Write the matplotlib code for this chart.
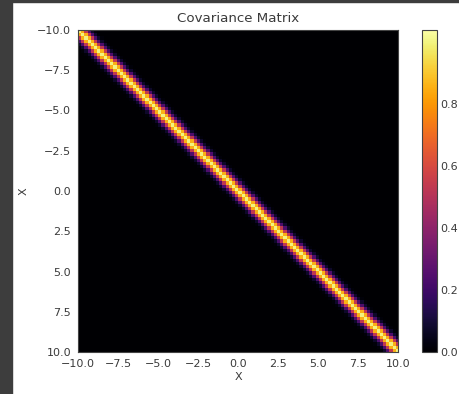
import numpy as np
import matplotlib
matplotlib.use("Agg")
import matplotlib.pyplot as plt
from matplotlib.patches import Rectangle

# grid points and kernel settings
n_points = 100
x_min, x_max = -10.0, 10.0
length_scale = 0.36
tick_values = [-10.0, -7.5, -5.0, -2.5, 0.0, 2.5, 5.0, 7.5, 10.0]
cbar_ticks = [0.0, 0.2, 0.4, 0.6, 0.8]

# covariance matrix of a squared exponential kernel
x = np.linspace(x_min, x_max, n_points)
sqdist = (x[:, None] - x[None, :]) ** 2
cov = np.exp(-0.5 * sqdist / length_scale ** 2)

plt.rcParams["font.family"] = "DejaVu Sans"
plt.rcParams["font.size"] = 8

fig = plt.figure(figsize=(4.59, 3.94), dpi=100)
fig.patch.set_facecolor("white")

# notebook frame around the screenshot
fig.patches.append(Rectangle((0, 0), 12 / 459, 1, transform=fig.transFigure, color="#3d3d3d", zorder=0))
fig.patches.append(Rectangle((0, 1 - 2 / 394), 1, 2 / 394, transform=fig.transFigure, color="#3d3d3d", zorder=0))

ax = fig.add_axes([78 / 459, 42 / 394, 320 / 459, 322 / 394])
cax = fig.add_axes([422 / 459, 42 / 394, 15 / 459, 322 / 394])

im = ax.imshow(cov, cmap="inferno", extent=[x_min, x_max, x_max, x_min],
               vmin=0, vmax=1.04, aspect="auto", interpolation="nearest")
ax.set_xticks(tick_values)
ax.set_yticks(tick_values)
ax.tick_params(length=0, pad=5, colors="#3a3a3a", labelsize=8)
ax.set_xlabel("X", color="#3a3a3a", labelpad=2)
ax.set_ylabel("X", color="#3a3a3a", labelpad=6)
ax.set_title("Covariance Matrix", fontsize=9.6, color="#3a3a3a", pad=6)
for spine in ax.spines.values():
    spine.set_color("#444444")
    spine.set_linewidth(0.8)

cbar = fig.colorbar(im, cax=cax, ticks=cbar_ticks)
cbar.ax.tick_params(length=0, pad=2.5, colors="#3a3a3a", labelsize=8)
cbar.outline.set_edgecolor("#444444")
cbar.outline.set_linewidth(0.8)

fig.savefig("out.png", dpi=100)
